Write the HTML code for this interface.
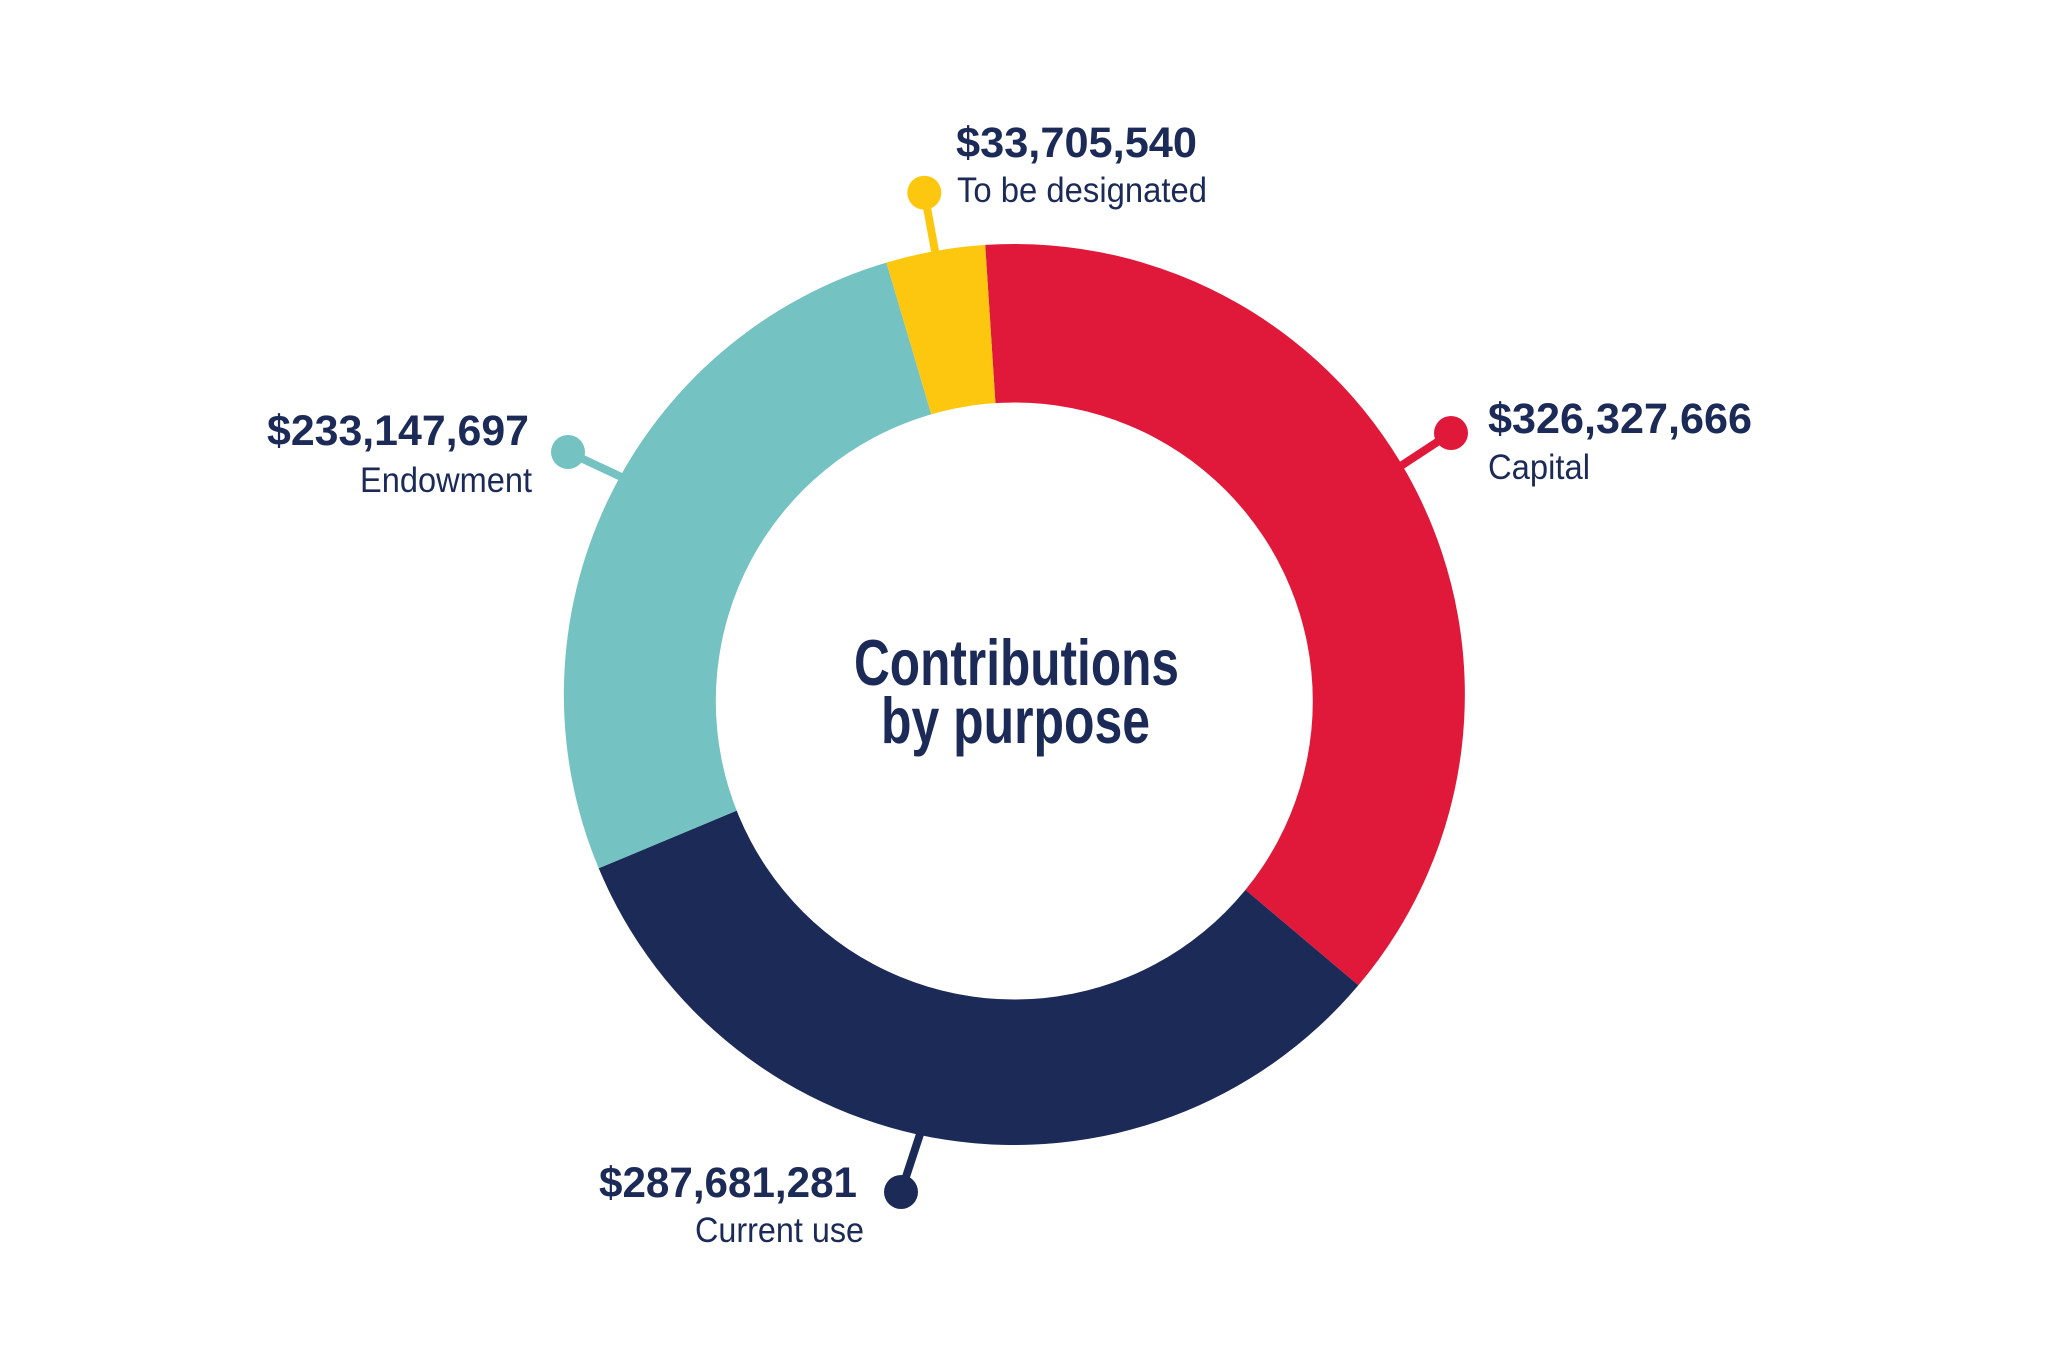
<!DOCTYPE html>
<html>
<head>
<meta charset="utf-8">
<style>
  html, body { margin:0; padding:0; background:#ffffff; }
  body { width:2048px; height:1360px; overflow:hidden; }
  svg { display:block; }
  .num { font-family:"Liberation Sans Narrow","Liberation Sans",sans-serif; font-weight:bold; font-size:43px; fill:#1B2A56; }
  .lbl { font-family:"Liberation Sans Narrow","Liberation Sans",sans-serif; font-weight:normal; font-size:35px; fill:#1B2A56; }
  .ttl { font-family:"Liberation Sans Narrow","Liberation Sans",sans-serif; font-weight:bold; font-size:65px; fill:#1B2A56; }
</style>
</head>
<body>
<svg width="2048" height="1360" viewBox="0 0 2048 1360" xmlns="http://www.w3.org/2000/svg">
  <rect width="2048" height="1360" fill="#ffffff"/>

  <!-- leader lines -->
  <line x1="924.3" y1="192.7" x2="937" y2="262" stroke="#FDC70F" stroke-width="8"/>
  <line x1="1451" y1="433" x2="1390" y2="473" stroke="#E0193A" stroke-width="8"/>
  <line x1="568" y1="452" x2="632" y2="482" stroke="#75C2C2" stroke-width="8"/>
  <line x1="901" y1="1192" x2="923" y2="1125" stroke="#1B2A56" stroke-width="8"/>

  <!-- wedges -->
  <path d="M1014.3 694.5 L985.2 244.9 A450.5 450.5 0 0 1 1358.4 985.3 Z" fill="#E0193A"/>
  <path d="M1014.3 694.5 L1358.4 985.3 A450.5 450.5 0 0 1 598.7 868.3 Z" fill="#1B2A56"/>
  <path d="M1014.3 694.5 L598.7 868.3 A450.5 450.5 0 0 1 886.4 262.6 Z" fill="#75C2C2"/>
  <path d="M1014.3 694.5 L886.4 262.6 A450.5 450.5 0 0 1 985.2 244.9 Z" fill="#FDC70F"/>

  <!-- hole -->
  <circle cx="1014.3" cy="701" r="298.5" fill="#ffffff"/>

  <!-- dots -->
  <circle cx="924.3" cy="192.7" r="17" fill="#FDC70F"/>
  <circle cx="1451" cy="433" r="17" fill="#E0193A"/>
  <circle cx="568" cy="452" r="17" fill="#75C2C2"/>
  <circle cx="901" cy="1192" r="17" fill="#1B2A56"/>

  <!-- labels -->
  <text class="num" x="956" y="157" textLength="241" lengthAdjust="spacingAndGlyphs">$33,705,540</text>
  <text class="lbl" x="957" y="202" textLength="250" lengthAdjust="spacingAndGlyphs">To be designated</text>

  <text class="num" x="1488" y="433" textLength="264" lengthAdjust="spacingAndGlyphs">$326,327,666</text>
  <text class="lbl" x="1488" y="479" textLength="102" lengthAdjust="spacingAndGlyphs">Capital</text>

  <text class="num" x="267" y="445" textLength="262" lengthAdjust="spacingAndGlyphs">$233,147,697</text>
  <text class="lbl" x="360" y="492" textLength="172" lengthAdjust="spacingAndGlyphs">Endowment</text>

  <text class="num" x="599" y="1197" textLength="258" lengthAdjust="spacingAndGlyphs">$287,681,281</text>
  <text class="lbl" x="695" y="1242" textLength="169" lengthAdjust="spacingAndGlyphs">Current use</text>

  <!-- title -->
  <text class="ttl" x="854" y="685" textLength="325" lengthAdjust="spacingAndGlyphs">Contributions</text>
  <text class="ttl" x="881" y="743" textLength="269" lengthAdjust="spacingAndGlyphs">by purpose</text>
</svg>
</body>
</html>
